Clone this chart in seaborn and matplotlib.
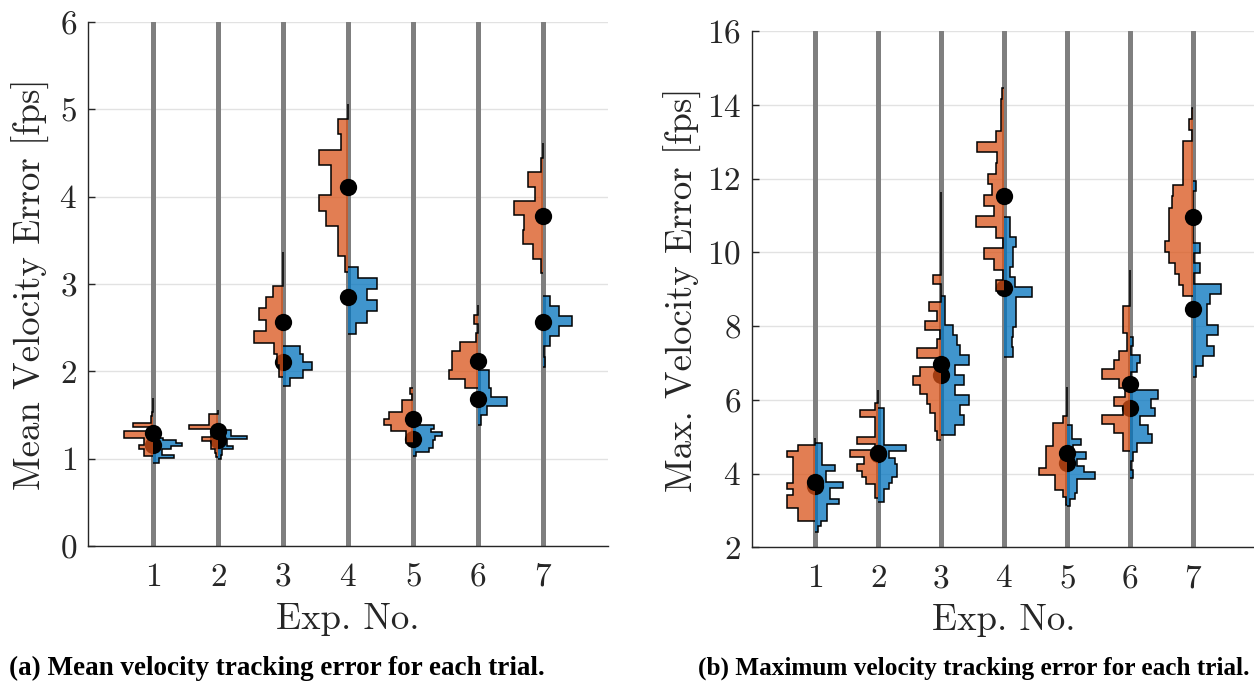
import matplotlib
matplotlib.use('Agg')
import matplotlib.pyplot as plt
import numpy as np
import pandas as pd
import seaborn as sns
from matplotlib.colors import to_rgba

exp_no = [1, 2, 3, 4, 5, 6, 7]

# (a) mean velocity error: histogram start, bin width, relative bin heights (bottom -> top)
mean_orange_lo = [1.026, 1.02, 1.94, 3.14, 1.18, 1.81, 3.125]
mean_orange_bw = [0.042, 0.045, 0.13, 0.175, 0.07, 0.105, 0.165]
mean_orange_h = [
    [0.3, 0.3, 0.47, 0.3, 0.3, 1.0, 1.0, 0.09, 0.70, 0.07, 0.07, 0.03, 0.01, 0.01, 0.01, 0.01],
    [0.08, 0.1, 0.24, 0.24, 0.56, 0.24, 0.24, 1.0, 0.32, 0.32, 0.32, 0.01],
    [0.15, 0.2, 0.31, 1.0, 0.59, 0.81, 0.59, 0.33, 0.01, 0.01, 0.01],
    [0.11, 0.33, 0.33, 0.77, 1.0, 0.57, 0.57, 1.0, 0.23, 0.33, 0.01],
    [0.25, 0.25, 0.75, 1.0, 0.83, 0.37, 0.37, 0.02, 0.1],
    [0.44, 1.0, 0.9, 0.9, 0.61, 0.07, 0.01, 0.13, 0.01],
    [0.07, 0.36, 0.7, 0.64, 1.0, 0.26, 0.53, 0.07, 0.01],
]
mean_blue_lo = [0.945, 1.0, 1.83, 2.43, 1.03, 1.39, 2.055]
mean_blue_bw = [0.033, 0.037, 0.093, 0.128, 0.045, 0.105, 0.115]
mean_blue_h = [
    [0.2, 0.2, 0.72, 0.3, 0.3, 0.6, 1.0, 0.8, 0.35],
    [0.1, 0.15, 0.15, 0.52, 0.3, 0.3, 1.0, 0.43, 0.43],
    [0.24, 0.68, 1.0, 0.68, 0.58],
    [0.26, 0.64, 1.0, 0.66, 1.0, 0.34],
    [0.1, 0.56, 0.68, 0.68, 0.74, 1.0, 0.62, 0.7],
    [0.09, 0.32, 1.0, 0.45, 0.38, 0.38],
    [0.05, 0.02, 0.25, 0.56, 1.0, 0.56, 0.25],
]
mean_orange_mid = [1.29, 1.32, 2.57, 4.11, 1.45, 2.12, 3.78]
mean_blue_mid = [1.16, 1.21, 2.11, 2.85, 1.23, 1.68, 2.56]

# (b) max velocity error
max_orange_lo = [2.72, 3.35, 4.9, 8.95, 3.16, 4.62, 8.82]
max_orange_bw = [0.172, 0.183, 0.25, 0.29, 0.2, 0.245, 0.3]
max_orange_h = [
    [0.6, 0.6, 1.0, 1.0, 0.79, 1.0, 0.79, 0.79, 0.79, 0.79, 1.0, 0.6, 0.01],
    [0.09, 0.09, 0.44, 0.58, 0.73, 0.5, 1.0, 0.1, 0.73, 0.09, 0.09, 0.09, 0.62, 0.09, 0.01, 0.01],
    [0.14, 0.21, 0.21, 0.38, 0.5, 0.73, 1.0, 0.73, 0.15, 0.85, 0.15, 0.05, 0.56, 0.15, 0.42,
     0.01, 0.01, 0.27, 0.01, 0.01, 0.01, 0.01, 0.01, 0.01, 0.01, 0.01, 0.01],
    [0.3, 0.05, 0.35, 0.72, 0.05, 0.28, 1.0, 0.37, 0.72, 0.43, 0.58, 0.3, 0.25, 0.95, 0.28,
     0.1, 0.1, 0.1, 0.08],
    [0.03, 0.14, 0.42, 0.42, 1.0, 0.75, 0.75, 0.73, 0.48, 0.48, 0.48, 0.13, 0.01, 0.01, 0.01, 0.01],
    [0.26, 0.26, 0.55, 1.0, 0.25, 0.56, 0.18, 0.4, 1.0, 0.58, 0.4, 0.12, 0.12, 0.26, 0.26, 0.26,
     0.01, 0.01, 0.01, 0.01],
    [0.35, 0.49, 0.64, 0.84, 1.0, 0.84, 0.84, 0.84, 0.75, 0.7, 0.35, 0.35, 0.35, 0.35, 0.02, 0.15, 0.02],
]
max_blue_lo = [2.42, 3.24, 5.05, 7.17, 3.12, 3.87, 6.63]
max_blue_bw = [0.15, 0.17, 0.27, 0.27, 0.183, 0.24, 0.28]
max_blue_h = [
    [0.1, 0.22, 0.42, 0.42, 0.42, 0.83, 0.53, 0.53, 1.0, 0.37, 0.37, 0.69, 0.26, 0.26, 0.26, 0.26],
    [0.22, 0.22, 0.37, 0.49, 0.66, 0.66, 0.6, 0.37, 1.0, 0.22, 0.22, 0.22, 0.22, 0.22, 0.22],
    [0.49, 0.8, 0.66, 1.0, 0.49, 0.8, 0.49, 1.0, 0.66, 0.55, 0.43, 0.14, 0.14, 0.14],
    [0.33, 0.28, 0.33, 0.42, 0.42, 0.44, 1.0, 0.38, 0.22, 0.33, 0.33, 0.44, 0.2, 0.2],
    [0.1, 0.28, 0.34, 0.34, 1.0, 0.6, 0.34, 0.66, 0.22, 0.48, 0.16, 0.16],
    [0.1, 0.03, 0.1, 0.26, 0.76, 0.64, 0.35, 0.88, 0.73, 1.0, 0.03, 0.03, 0.26, 0.35, 0.03, 0.12],
    [0.12, 0.35, 0.75, 0.5, 0.88, 0.5, 0.5, 0.6, 1.0, 0.03, 0.23, 0.02, 0.23, 0.01, 0.01, 0.01,
     0.01, 0.01, 0.12],
]
max_orange_mid = [3.78, 4.55, 6.98, 11.52, 4.55, 6.42, 10.97]
max_blue_mid = [3.66, 4.52, 6.68, 9.03, 4.28, 5.79, 8.47]

orange = (0.85, 0.325, 0.098)
blue = (0.0, 0.447, 0.741)
half_width = 0.45

sns.set_theme(style='white')
plt.rcParams['font.family'] = ['cmr10', 'DejaVu Serif']
plt.rcParams['mathtext.fontset'] = 'cm'
plt.rcParams['axes.formatter.use_mathtext'] = True


def draw_panel(ax, o_lo, o_bw, o_h, b_lo, b_bw, b_h, o_mid, b_mid, ylim, yticks, ylabel, ylabelpad):
    for i, x in enumerate(exp_no):
        ax.axvline(x, color='#7f7f7f', lw=3.6, zorder=1)
        # blue half on the right of each line
        edges = b_lo[i] + b_bw[i] * np.arange(len(b_h[i]) + 1)
        ax.stairs(x + half_width * np.array(b_h[i]), edges, baseline=x,
                  orientation='horizontal', fill=True, facecolor=to_rgba(blue, 0.75),
                  edgecolor='black', linewidth=1.1, zorder=2)
        # orange half on the left
        edges = o_lo[i] + o_bw[i] * np.arange(len(o_h[i]) + 1)
        ax.stairs(x - half_width * np.array(o_h[i]), edges, baseline=x,
                  orientation='horizontal', fill=True, facecolor=to_rgba(orange, 0.75),
                  edgecolor='black', linewidth=1.1, zorder=4)

    mids = pd.DataFrame({'exp': exp_no + exp_no,
                         'value': list(b_mid) + list(o_mid),
                         'group': ['blue'] * 7 + ['orange'] * 7})
    sns.scatterplot(data=mids[mids['group'] == 'blue'], x='exp', y='value', color='black',
                    s=155, linewidth=0, zorder=3, legend=False, ax=ax)
    sns.scatterplot(data=mids[mids['group'] == 'orange'], x='exp', y='value', color='black',
                    s=155, linewidth=0, zorder=5, legend=False, ax=ax)

    ax.set_xlim(0, 8)
    ax.set_ylim(*ylim)
    ax.set_xticks(exp_no)
    ax.set_yticks(yticks)
    ax.yaxis.grid(True, color='#e2e2e2', lw=1)
    ax.xaxis.grid(False)
    ax.set_axisbelow(True)
    sns.despine(ax=ax)
    for s in ['left', 'bottom']:
        ax.spines[s].set_color('#262626')
        ax.spines[s].set_linewidth(1.0)
    ax.tick_params(axis='y', left=True, direction='in', length=5, width=1,
                   color='#262626', labelsize=24, pad=8, labelcolor='#262626')
    ax.tick_params(axis='x', bottom=False, length=0, labelsize=24, pad=12,
                   labelcolor='#262626')
    ax.set_xlabel('Exp. No.', fontsize=26.5, color='#262626', labelpad=8)
    ax.set_ylabel(ylabel, fontsize=26.5, color='#262626', labelpad=ylabelpad)


fig = plt.figure(figsize=(12.54, 6.81), dpi=100)
ax_a = fig.add_axes([0.0702, 0.1982, 0.4147, 0.7695])
ax_b = fig.add_axes([0.5997, 0.1963, 0.4019, 0.7577])

draw_panel(ax_a, mean_orange_lo, mean_orange_bw, mean_orange_h,
           mean_blue_lo, mean_blue_bw, mean_blue_h, mean_orange_mid, mean_blue_mid,
           (0, 6), range(0, 7), 'Mean Velocity Error [fps]', 7)
draw_panel(ax_b, max_orange_lo, max_orange_bw, max_orange_h,
           max_blue_lo, max_blue_bw, max_blue_h, max_orange_mid, max_blue_mid,
           (2, 16), range(2, 17, 2), 'Max. Velocity Error [fps]', 3)

fig.text(0.221, 0.009, '(a) Mean velocity tracking error for each trial.', ha='center',
         va='baseline', fontsize=19.5, fontweight='bold', family='Liberation Serif', color='black')
fig.text(0.7765, 0.009, '(b) Maximum velocity tracking error for each trial.', ha='center',
         va='baseline', fontsize=18.2, fontweight='bold', family='Liberation Serif', color='black')

fig.savefig('out.png', dpi=100)
